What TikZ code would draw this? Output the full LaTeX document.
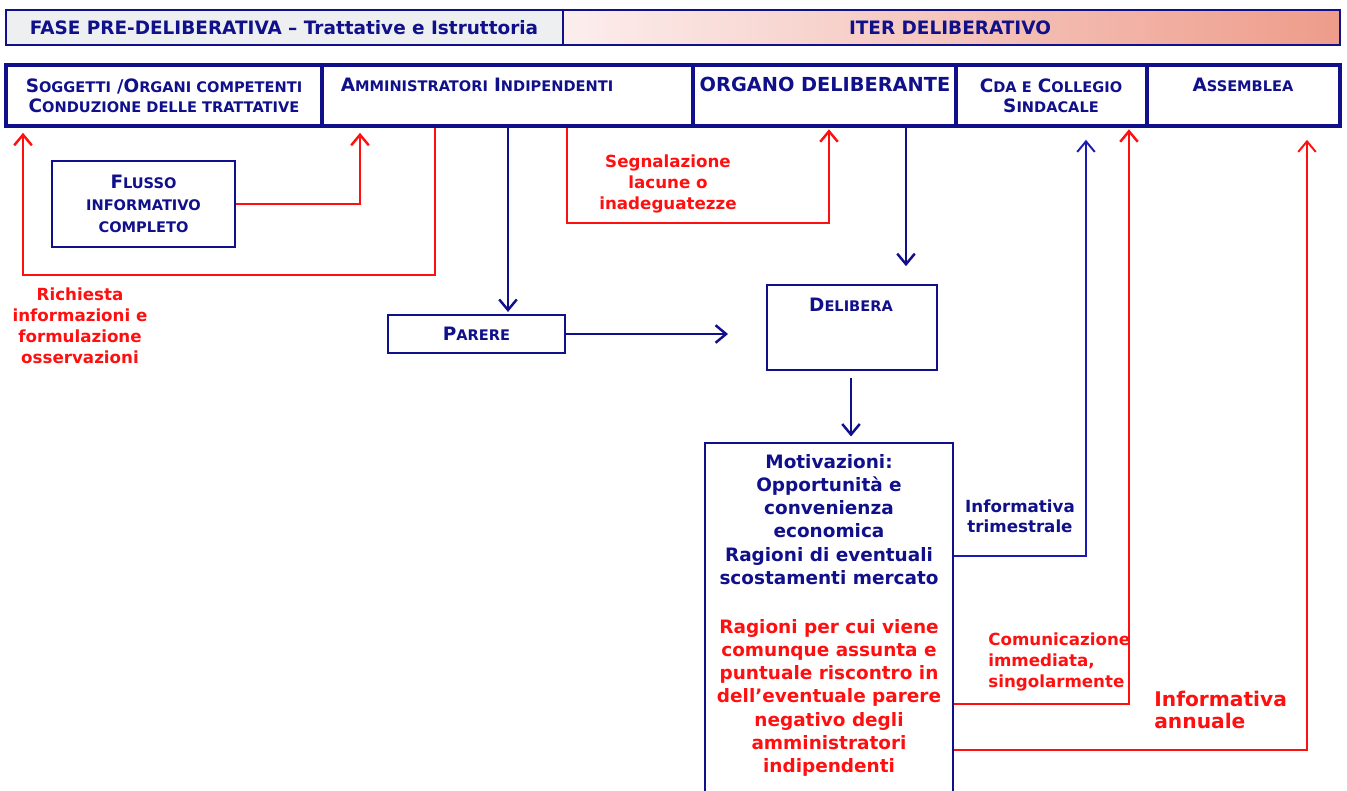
\documentclass[tikz,border=0pt]{standalone}
\usepackage{fontspec}
\setmainfont{DejaVu Sans}
\usetikzlibrary{arrows.meta,calc}
\definecolor{navy}{HTML}{10108A}
\definecolor{flow}{HTML}{1A1AB4}
\definecolor{alert}{HTML}{FF1010}
\definecolor{headgrey}{HTML}{EDEFF1}
\definecolor{pinkL}{HTML}{FCEEEE}
\definecolor{pinkR}{HTML}{EE9C8A}
% fake small caps: big initial, smaller rest
\newcommand{\pcap}[2]{{\fontsize{10.5}{12}\selectfont #1}{\fontsize{8.3}{12}\selectfont #2}}
\tikzset{
  headbox/.style={draw=navy, line width=1.2pt, minimum height=0.7cm, inner sep=0pt},
  topbox/.style={draw=navy, line width=1.8pt, minimum height=1.22cm, inner sep=0pt},
  box/.style={draw=navy, line width=1.5pt, inner sep=0pt, align=center},
  txt/.style={font=\bfseries\fontsize{10}{13.2}\selectfont, text=navy, align=center, inner sep=0pt},
  rtxt/.style={txt, text=alert},
  bflow/.style={draw=navy, line width=1.4pt, -{Straight Barb[length=6pt,width=10pt]}},
  rflow/.style={draw=alert, line width=1.4pt, -{Straight Barb[length=6pt,width=10pt]}},
}
\begin{document}
\begin{tikzpicture}[x=0.02cm, y=-0.02cm]
  \clip (0,0) rectangle (1347,791);
  \fill[white] (0,0) rectangle (1347,791);

  % header
  \node[headbox, fill=headgrey, minimum width=11.14cm] (fase) at (284.5,27.5) {};
  \node[headbox, left color=pinkL, right color=pinkR, minimum width=15.54cm] (iter) at (951.5,27.5) {};
  \node[txt, font=\bfseries\fontsize{10.5}{12}\selectfont] (faseT) at (284,27.5) {FASE PRE-DELIBERATIVA – Trattative e Istruttoria};
  \node[txt, font=\bfseries\fontsize{10.5}{12}\selectfont] (iterT) at (950,27.5) {ITER DELIBERATIVO};

  % top row
  \node[topbox, minimum width=6.32cm] (sogg) at (164,95.5) {};
  \node[topbox, minimum width=7.42cm] (amm) at (507.5,95.5) {};
  \node[topbox, minimum width=5.26cm] (org) at (824.5,95.5) {};
  \node[topbox, minimum width=3.82cm] (cda) at (1051.5,95.5) {};
  \node[topbox, minimum width=3.86cm] (ass) at (1243.5,95.5) {};
  \node[txt, font=\bfseries\fontsize{10}{11.5}\selectfont] (soggT) at (164,96)
    {\pcap{S}{OGGETTI} /\pcap{O}{RGANI COMPETENTI}\\\pcap{C}{ONDUZIONE DELLE TRATTATIVE}};
  \node[txt, font=\bfseries] (ammT) at (477,85) {\pcap{A}{MMINISTRATORI} \pcap{I}{NDIPENDENTI}};
  \node[txt, font=\bfseries\fontsize{11}{12}\selectfont] (orgT) at (825,84) {ORGANO DELIBERANTE};
  \node[txt, font=\bfseries\fontsize{10}{11.5}\selectfont] (cdaT) at (1051,96) {\pcap{C}{DA E} \pcap{C}{OLLEGIO}\\\pcap{S}{INDACALE}};
  \node[txt, font=\bfseries] (assT) at (1243,85) {\pcap{A}{SSEMBLEA}};

  % boxes
  \node[box, minimum width=3.66cm, minimum height=1.72cm, font=\bfseries\fontsize{10}{12.5}\selectfont, text=navy] (flusso) at (143.5,204)
    {\pcap{F}{LUSSO}\\\pcap{}{INFORMATIVO}\\\pcap{}{COMPLETO}};
  \node[box, minimum width=3.54cm, minimum height=0.76cm, font=\bfseries, text=navy] (parere) at (476.5,334) {\pcap{P}{ARERE}};
  \node[box, minimum width=3.4cm, minimum height=1.7cm] (delib) at (852,327.5) {};
  \node[txt, font=\bfseries] (delibT) at (851,305) {\pcap{D}{ELIBERA}};
  \node[box, minimum width=4.96cm, minimum height=7.6cm] (motiv) at (829,633) {};
  \node[txt, font=\bfseries\fontsize{10.5}{13.2}\selectfont, anchor=north] (motivT) at (829,454)
    {Motivazioni:\\Opportunità e\\convenienza\\economica\\Ragioni di eventuali\\scostamenti mercato};
  \node[rtxt, font=\bfseries\fontsize{10.5}{13.2}\selectfont, anchor=north] (ragioniT) at (829,619)
    {Ragioni per cui viene\\comunque assunta e\\puntuale riscontro in\\dell’eventuale parere\\negativo degli\\amministratori\\indipendenti};

  % labels
  \node[rtxt, font=\bfseries\fontsize{9.5}{12}\selectfont] (richT) at (80,326) {Richiesta\\informazioni e\\formulazione\\osservazioni};
  \node[rtxt, font=\bfseries\fontsize{9.5}{12}\selectfont] (segnT) at (668,184) {Segnalazione\\lacune o\\inadeguatezze};
  \node[txt, font=\bfseries\fontsize{9.5}{11.5}\selectfont] (trimT) at (1020,516) {Informativa\\trimestrale};
  \node[rtxt, font=\bfseries\fontsize{9.5}{12}\selectfont, align=left, anchor=west] (comT) at (988,662) {Comunicazione\\immediata,\\singolarmente};
  \node[rtxt, font=\bfseries\fontsize{11.5}{13}\selectfont, align=left, anchor=west] (annT) at (1154,710) {Informativa\\annuale};

  % connectors
  \draw[rflow, shorten >=3pt] (435,0 |- amm.south) -- (435,275) -| (23,0 |- sogg.south);
  \draw[rflow, shorten >=3pt] (flusso.east) -| (360,0 |- sogg.south);
  \draw[bflow, shorten >=1pt] (508,0 |- amm.south) -- (508,0 |- parere.north);
  \coordinate (parEnd) at (728,334);
  \draw[bflow] (parere.east) -- (parEnd);
  \draw[rflow, shorten >=1pt] (567,0 |- amm.south) |- (829,223) -- (829,0 |- org.south);
  \draw[bflow, shorten >=10pt] (906,0 |- org.south) -- (906,0 |- delib.north);
  \draw[bflow, shorten <=4pt, shorten >=3pt] (851,0 |- delib.south) -- (851,0 |- motiv.north);
  \draw[bflow, draw=flow, line width=1.1pt, shorten >=7pt] (motiv.east |- 0,556) -| (1086,0 |- cda.south);
  \draw[rflow, shorten >=1pt] (motiv.east |- 0,704) -| (1129,0 |- cda.south);
  \draw[rflow, line width=1.1pt, shorten >=7pt] (motiv.east |- 0,750) -| (1307,0 |- ass.south);
\end{tikzpicture}
\end{document}
